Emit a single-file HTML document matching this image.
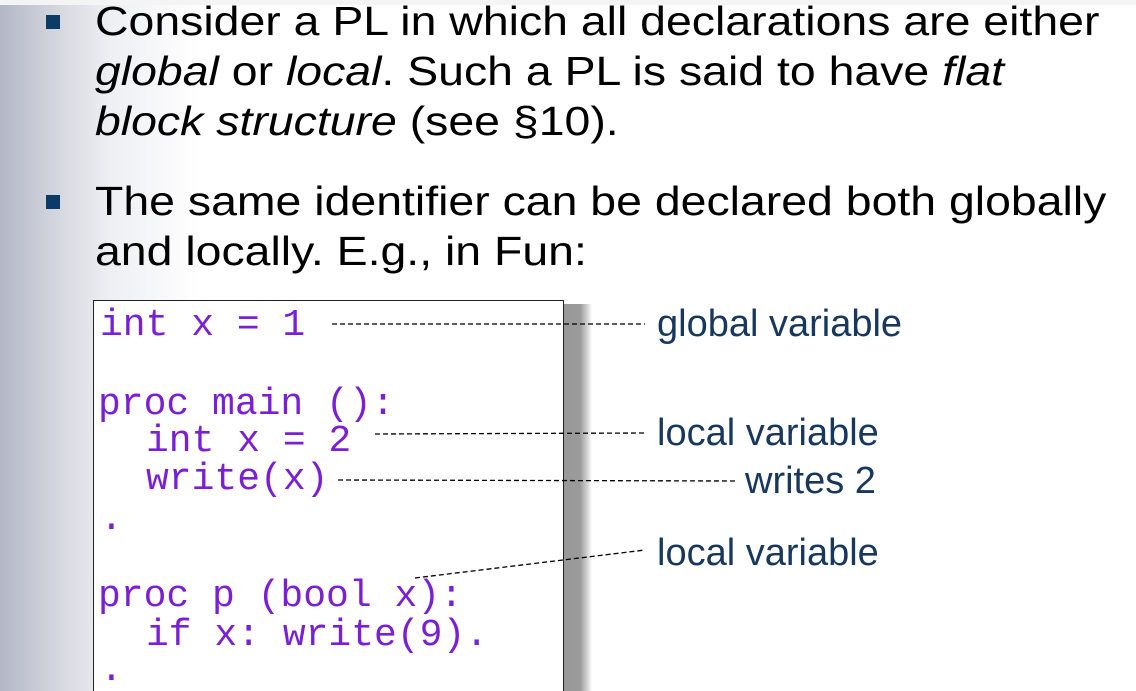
<!DOCTYPE html>
<html><head><meta charset="utf-8"><style>
html,body{margin:0;padding:0;overflow:hidden;width:1136px;height:691px}
body{position:relative;background:linear-gradient(to right,#b3b7c6 0px,#d6d8e0 60px,#eeeff3 110px,#fff 200px);font-family:"Liberation Sans",sans-serif}
.t{position:absolute;left:95px;font-size:41px;color:#000;white-space:nowrap;line-height:1;transform:scaleX(1.132);transform-origin:0 0}
.b{position:absolute;left:46px;width:14px;height:14px;background:#0b3c68}
.box{position:absolute;left:93px;top:300px;width:471px;height:391px;background:#fff;border:1px solid #222;border-bottom:none;box-sizing:border-box}
.sh{position:absolute;left:564px;top:304px;width:28px;height:387px;background:linear-gradient(to right,#999 0,#9a9a9a 16px,rgba(160,160,160,0.4) 24px,rgba(255,255,255,0) 28px)}
.c{position:absolute;font-family:"Liberation Mono",monospace;font-size:38px;color:#7b1fd6;white-space:pre;line-height:1}
.l{position:absolute;font-size:38px;color:#17375e;white-space:nowrap;line-height:1}
</style></head><body>
<div style="position:absolute;left:0;top:0;width:1136px;height:5px;background:#f4f4f4"></div>
<div class="b" style="top:15px"></div>
<div class="b" style="top:195px"></div>
<div class="t" style="top:1px">Consider a PL in which all declarations are either</div>
<div class="t" style="top:51px"><i>global</i> or <i>local</i>. Such a PL is said to have <i>flat</i></div>
<div class="t" style="top:101px"><i>block structure</i> (see §10).</div>
<div class="t" style="top:181px">The same identifier can be declared both globally</div>
<div class="t" style="top:231px">and locally. E.g., in Fun:</div>
<div class="sh"></div>
<div class="box"></div>
<div class="c" style="left:100px;top:307px">int x = 1</div>
<div class="c" style="left:98px;top:386px">proc main ():</div>
<div class="c" style="left:146px;top:423px">int x = 2</div>
<div class="c" style="left:146px;top:461px">write(x)</div>
<div class="c" style="left:100px;top:501px">.</div>
<div class="c" style="left:98px;top:578px">proc p (bool x):</div>
<div class="c" style="left:146px;top:617px">if x: write(9).</div>
<div class="c" style="left:100px;top:652px">.</div>
<svg style="position:absolute;left:0;top:0" width="1136" height="691">
<g stroke="#000" stroke-width="1.3" stroke-dasharray="5,3" fill="none">
<line x1="332" y1="324" x2="645" y2="324"/>
<line x1="375" y1="434" x2="645" y2="433"/>
<line x1="338" y1="480" x2="738" y2="481"/>
<line x1="415" y1="578" x2="645" y2="550"/>
</g></svg>
<div class="l" style="left:657px;top:305px">global variable</div>
<div class="l" style="left:657px;top:414px">local variable</div>
<div class="l" style="left:745px;top:462px">writes 2</div>
<div class="l" style="left:657px;top:534px">local variable</div>
</body></html>
